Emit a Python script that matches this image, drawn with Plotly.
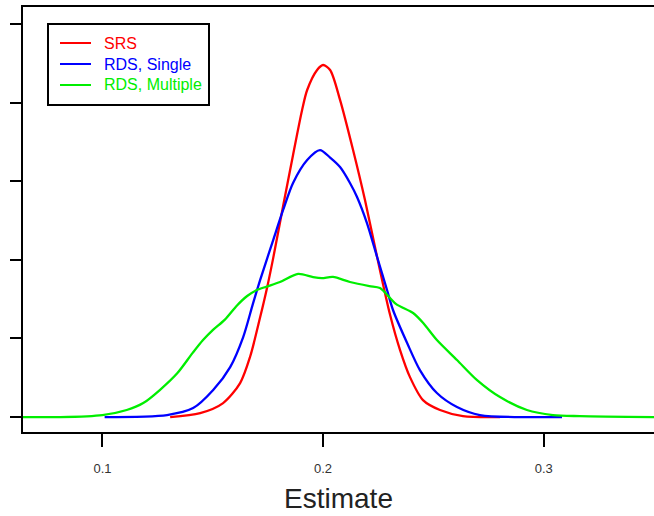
import plotly.graph_objects as go

# ---- data ----
srs_x = [0.1307, 0.1443, 0.1547, 0.1624, 0.1669, 0.1715, 0.1746, 0.1774, 0.1819, 0.1864,
         0.1905, 0.1928, 0.1973, 0.200, 0.2032, 0.2077, 0.2136, 0.2190, 0.2245, 0.2304,
         0.2349, 0.2394, 0.2453, 0.2530, 0.2634, 0.2802]
srs_y = [0.0, 0.25, 0.89, 2.16, 3.82, 6.36, 8.21, 10.11, 13.42, 16.67,
         19.53, 20.80, 22.07, 22.39, 22.07, 20.17, 16.98, 13.80, 10.18, 6.49,
         4.26, 2.54, 1.08, 0.45, 0.06, 0.0]

rds_single_x = [0.101, 0.1293, 0.1411, 0.1502, 0.1579, 0.1638, 0.1683, 0.1715, 0.1774,
                0.1819, 0.1864, 0.1928, 0.1986, 0.2032, 0.2077, 0.2122, 0.2154,
                0.2199, 0.2245, 0.2290, 0.2317, 0.2381, 0.2439, 0.2516, 0.2607, 0.2711, 0.3083]
rds_single_y = [0.0, 0.13, 0.57, 1.72, 3.18, 5.09, 7.25, 8.72, 11.26,
                13.17, 14.89, 16.35, 16.98, 16.5, 15.90, 14.89, 14.0,
                12.34, 10.18, 8.08, 6.81, 4.71, 2.99, 1.53, 0.64, 0.13, 0.0]

rds_multi_x = [0.064, 0.081, 0.100, 0.111, 0.1185, 0.126, 0.134, 0.141, 0.1456, 0.150,
               0.1555, 0.161, 0.1656, 0.170, 0.1745, 0.1805, 0.1887, 0.1955, 0.1995, 0.2045,
               0.2122, 0.221, 0.2258, 0.233, 0.2408, 0.2453, 0.2516, 0.2607, 0.2698, 0.2802,
               0.2924, 0.3042, 0.3164, 0.350]
rds_multi_y = [0.0, 0.0, 0.13, 0.45, 0.89, 1.72, 2.80, 4.10, 4.90, 5.53,
               6.2, 7.1, 7.7, 8.08, 8.3, 8.59, 9.1, 8.9, 8.84, 8.91,
               8.59, 8.33, 8.21, 7.2, 6.62, 6.0, 4.9, 3.63, 2.35, 1.27,
               0.45, 0.13, 0.06, 0.0]

x_ticks = [0.1, 0.2, 0.3]
x_tick_labels = ["0.1", "0.2", "0.3"]
y_ticks = [0, 5, 10, 15, 20, 25]

series_names = ["SRS", "RDS, Single", "RDS, Multiple"]
series_x = [srs_x, rds_single_x, rds_multi_x]
series_y = [srs_y, rds_single_y, rds_multi_y]
series_colors = ["#ff0000", "#0000ff", "#00ee00"]

W, H = 654, 516
ML, MR, MT, MB = 23, 0, 7, 84
PW, PH = W - ML - MR, H - MT - MB


def px_x(p):
    return (p - ML) / PW


def px_y(p):
    return (H - MB - p) / PH


fig = go.Figure()
for name, xs, ys, col in zip(series_names, series_x, series_y, series_colors):
    fig.add_trace(go.Scatter(
        x=xs, y=ys, mode="lines", name=name, showlegend=False,
        line=dict(color=col, width=2.3, shape="spline", smoothing=0.8),
    ))

# legend drawn as box + samples + labels
shapes = [dict(type="rect", xref="paper", yref="paper",
               x0=px_x(48), x1=px_x(209), y0=px_y(105), y1=px_y(24),
               line=dict(color="black", width=2), fillcolor="white", layer="above")]
annotations = []
for i, (name, col) in enumerate(zip(series_names, series_colors)):
    yy = px_y(43 + 21 * i)
    shapes.append(dict(type="line", xref="paper", yref="paper",
                       x0=px_x(60), x1=px_x(91), y0=yy, y1=yy,
                       line=dict(color=col, width=2), layer="above"))
    annotations.append(dict(xref="paper", yref="paper", x=px_x(102), y=yy,
                            xanchor="left", yanchor="middle", showarrow=False,
                            text=name, font=dict(size=16, color=col)))

fig.update_layout(
    width=W, height=H,
    margin=dict(l=ML, r=MR, t=MT, b=MB, autoexpand=False),
    paper_bgcolor="white", plot_bgcolor="white",
    font=dict(family="Liberation Sans, Arial, sans-serif", color="#333333"),
    showlegend=False,
    shapes=shapes, annotations=annotations,
    xaxis=dict(
        range=[0.064, 0.35], showgrid=False, zeroline=False, automargin=False,
        showline=True, linecolor="black", linewidth=2, mirror=True,
        ticks="outside", ticklen=13, tickwidth=2, tickcolor="black",
        tickvals=x_ticks, ticktext=x_tick_labels,
        tickfont=dict(size=13, color="#333333"),
        ticklabelstandoff=10,
        title=dict(text="Estimate", font=dict(size=28, color="#222222"), standoff=14),
    ),
    yaxis=dict(
        range=[-0.95, 26.08], showgrid=False, zeroline=False, automargin=False,
        showline=True, linecolor="black", linewidth=2,
        ticks="outside", ticklen=11, tickwidth=2, tickcolor="black",
        tickvals=y_ticks, showticklabels=False,
    ),
)

fig.write_html("out.html",
               config={"displayModeBar": False},
               post_script="document.body.style.margin='0';document.body.style.overflow='hidden';")
